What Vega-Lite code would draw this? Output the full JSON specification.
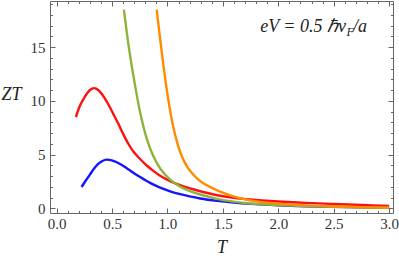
{
  "$schema": "https://vega.github.io/schema/vega-lite/v6.json",
  "width": 343,
  "height": 212,
  "autosize": "none",
  "padding": {"left": 50, "top": 1, "right": 6, "bottom": 48},
  "background": "white",
  "config": {
    "view": {"stroke": "#666", "strokeWidth": 1},
    "axis": {
      "domain": false,
      "grid": false,
      "tickColor": "#666",
      "tickWidth": 1,
      "labelFont": "Liberation Serif",
      "labelFontSize": 15,
      "labelColor": "#333",
      "titleFont": "Liberation Serif",
      "titleFontStyle": "italic",
      "titleFontWeight": "normal",
      "titleFontSize": 18,
      "titleColor": "#222"
    }
  },
  "datasets": {
    "curves": [
      {"s": "a", "T": 0.225, "ZT": 2.0},
      {"s": "a", "T": 0.263, "ZT": 2.6},
      {"s": "a", "T": 0.3, "ZT": 3.15},
      {"s": "a", "T": 0.338, "ZT": 3.72},
      {"s": "a", "T": 0.375, "ZT": 4.15},
      {"s": "a", "T": 0.413, "ZT": 4.42},
      {"s": "a", "T": 0.451, "ZT": 4.54},
      {"s": "a", "T": 0.498, "ZT": 4.47},
      {"s": "a", "T": 0.542, "ZT": 4.3},
      {"s": "a", "T": 0.588, "ZT": 4.05},
      {"s": "a", "T": 0.632, "ZT": 3.75},
      {"s": "a", "T": 0.688, "ZT": 3.35},
      {"s": "a", "T": 0.753, "ZT": 2.92},
      {"s": "a", "T": 0.843, "ZT": 2.38},
      {"s": "a", "T": 0.934, "ZT": 1.94},
      {"s": "a", "T": 1.024, "ZT": 1.6},
      {"s": "a", "T": 1.115, "ZT": 1.33},
      {"s": "a", "T": 1.208, "ZT": 1.11},
      {"s": "a", "T": 1.296, "ZT": 0.93},
      {"s": "a", "T": 1.448, "ZT": 0.71},
      {"s": "a", "T": 1.597, "ZT": 0.55},
      {"s": "a", "T": 1.748, "ZT": 0.43},
      {"s": "a", "T": 2.0, "ZT": 0.3},
      {"s": "a", "T": 2.25, "ZT": 0.21},
      {"s": "a", "T": 2.5, "ZT": 0.15},
      {"s": "a", "T": 2.75, "ZT": 0.11},
      {"s": "a", "T": 3.0, "ZT": 0.08},

      {"s": "b", "T": 0.174, "ZT": 8.5},
      {"s": "b", "T": 0.208, "ZT": 9.5},
      {"s": "b", "T": 0.255, "ZT": 10.4},
      {"s": "b", "T": 0.298, "ZT": 11.0},
      {"s": "b", "T": 0.339, "ZT": 11.2},
      {"s": "b", "T": 0.378, "ZT": 11.0},
      {"s": "b", "T": 0.421, "ZT": 10.45},
      {"s": "b", "T": 0.468, "ZT": 9.65},
      {"s": "b", "T": 0.511, "ZT": 8.8},
      {"s": "b", "T": 0.558, "ZT": 7.85},
      {"s": "b", "T": 0.602, "ZT": 6.9},
      {"s": "b", "T": 0.648, "ZT": 6.0},
      {"s": "b", "T": 0.692, "ZT": 5.3},
      {"s": "b", "T": 0.753, "ZT": 4.6},
      {"s": "b", "T": 0.813, "ZT": 4.0},
      {"s": "b", "T": 0.873, "ZT": 3.5},
      {"s": "b", "T": 0.934, "ZT": 3.05},
      {"s": "b", "T": 1.024, "ZT": 2.55},
      {"s": "b", "T": 1.115, "ZT": 2.17},
      {"s": "b", "T": 1.208, "ZT": 1.86},
      {"s": "b", "T": 1.296, "ZT": 1.6},
      {"s": "b", "T": 1.448, "ZT": 1.23},
      {"s": "b", "T": 1.597, "ZT": 0.99},
      {"s": "b", "T": 1.748, "ZT": 0.83},
      {"s": "b", "T": 2.0, "ZT": 0.65},
      {"s": "b", "T": 2.25, "ZT": 0.52},
      {"s": "b", "T": 2.5, "ZT": 0.42},
      {"s": "b", "T": 2.75, "ZT": 0.32},
      {"s": "b", "T": 3.0, "ZT": 0.24},

      {"s": "c", "T": 0.607, "ZT": 18.5},
      {"s": "c", "T": 0.65, "ZT": 15.1},
      {"s": "c", "T": 0.7, "ZT": 11.9},
      {"s": "c", "T": 0.752, "ZT": 9.0},
      {"s": "c", "T": 0.813, "ZT": 6.5},
      {"s": "c", "T": 0.873, "ZT": 4.85},
      {"s": "c", "T": 0.934, "ZT": 3.72},
      {"s": "c", "T": 1.024, "ZT": 2.68},
      {"s": "c", "T": 1.115, "ZT": 2.03},
      {"s": "c", "T": 1.208, "ZT": 1.6},
      {"s": "c", "T": 1.296, "ZT": 1.3},
      {"s": "c", "T": 1.448, "ZT": 0.9},
      {"s": "c", "T": 1.597, "ZT": 0.64},
      {"s": "c", "T": 1.748, "ZT": 0.47},
      {"s": "c", "T": 2.0, "ZT": 0.32},
      {"s": "c", "T": 2.25, "ZT": 0.22},
      {"s": "c", "T": 2.5, "ZT": 0.16},
      {"s": "c", "T": 2.75, "ZT": 0.11},
      {"s": "c", "T": 3.0, "ZT": 0.08},

      {"s": "d", "T": 0.903, "ZT": 18.5},
      {"s": "d", "T": 0.95, "ZT": 14.4},
      {"s": "d", "T": 1.0, "ZT": 10.6},
      {"s": "d", "T": 1.052, "ZT": 7.6},
      {"s": "d", "T": 1.113, "ZT": 5.3},
      {"s": "d", "T": 1.16, "ZT": 4.2},
      {"s": "d", "T": 1.203, "ZT": 3.5},
      {"s": "d", "T": 1.293, "ZT": 2.55},
      {"s": "d", "T": 1.444, "ZT": 1.7},
      {"s": "d", "T": 1.594, "ZT": 1.12},
      {"s": "d", "T": 1.745, "ZT": 0.76},
      {"s": "d", "T": 2.0, "ZT": 0.45},
      {"s": "d", "T": 2.25, "ZT": 0.29},
      {"s": "d", "T": 2.5, "ZT": 0.19},
      {"s": "d", "T": 2.75, "ZT": 0.12},
      {"s": "d", "T": 3.0, "ZT": 0.07}
    ],
    "notes": [
      {"seg": "main", "text": "eV = 0.5 ℏv", "T": 2.611, "ZT": 16.43},
      {"seg": "sub", "text": "F", "T": 2.616, "ZT": 16.06},
      {"seg": "tail", "text": "/a", "T": 2.675, "ZT": 16.43}
    ]
  },
  "layer": [
    {
      "data": {"name": "curves"},
      "mark": {"type": "line", "strokeWidth": 2.4, "interpolate": "catmull-rom", "clip": true},
      "encoding": {
        "x": {
          "field": "T", "type": "quantitative",
          "scale": {"domain": [-0.06, 3.035], "nice": false, "zero": false},
          "axis": {
            "orient": "bottom", "title": "T",
            "values": [0, 0.5, 1, 1.5, 2, 2.5, 3], "format": ".1f",
            "tickSize": -5, "labelPadding": 8,
            "titleY": 39, "titleBaseline": "alphabetic"
          }
        },
        "y": {
          "field": "ZT", "type": "quantitative",
          "scale": {"domain": [-0.42, 19.3], "nice": false, "zero": false},
          "axis": {
            "orient": "left", "title": "ZT",
            "values": [0, 5, 10, 15], "format": "d",
            "tickSize": -5, "labelPadding": 10,
            "titleAngle": 0, "titleX": -49, "titleY": 98,
            "titleAlign": "left", "titleBaseline": "alphabetic"
          }
        },
        "color": {
          "field": "s", "type": "nominal",
          "scale": {"domain": ["a", "b", "c", "d"], "range": ["#1414ff", "#ff1010", "#8db43a", "#ff8c00"]},
          "legend": null
        },
        "order": {"field": "T", "type": "quantitative"}
      }
    },
    {
      "data": {"name": "notes"},
      "transform": [{"filter": "datum.seg === 'main'"}],
      "mark": {"type": "text", "align": "right", "baseline": "alphabetic", "font": "Liberation Serif", "fontStyle": "italic", "fontSize": 18, "color": "#222"},
      "encoding": {
        "x": {
          "field": "T", "type": "quantitative",
          "scale": {"domain": [-0.06, 3.035], "nice": false, "zero": false},
          "axis": {
            "orient": "bottom", "title": null, "labels": false,
            "values": [0,0.1,0.2,0.3,0.4,0.5,0.6,0.7,0.8,0.9,1,1.1,1.2,1.3,1.4,1.5,1.6,1.7,1.8,1.9,2,2.1,2.2,2.3,2.4,2.5,2.6,2.7,2.8,2.9,3],
            "tickSize": -2.5
          }
        },
        "y": {
          "field": "ZT", "type": "quantitative",
          "scale": {"domain": [-0.42, 19.3], "nice": false, "zero": false},
          "axis": {
            "orient": "left", "title": null, "labels": false,
            "values": [0,1,2,3,4,5,6,7,8,9,10,11,12,13,14,15,16,17,18,19],
            "tickSize": -2.5
          }
        },
        "text": {"field": "text"}
      }
    },
    {
      "data": {"name": "notes"},
      "transform": [{"filter": "datum.seg === 'sub'"}],
      "mark": {"type": "text", "align": "left", "baseline": "alphabetic", "font": "Liberation Serif", "fontStyle": "italic", "fontSize": 12, "color": "#222"},
      "encoding": {
        "x": {
          "field": "T", "type": "quantitative",
          "scale": {"domain": [-0.06, 3.035], "nice": false, "zero": false},
          "axis": {
            "orient": "top", "title": null, "labels": false,
            "values": [0, 0.5, 1, 1.5, 2, 2.5, 3],
            "tickSize": -5
          }
        },
        "y": {
          "field": "ZT", "type": "quantitative",
          "scale": {"domain": [-0.42, 19.3], "nice": false, "zero": false},
          "axis": {
            "orient": "right", "title": null, "labels": false,
            "values": [0, 5, 10, 15],
            "tickSize": -5
          }
        },
        "text": {"field": "text"}
      }
    },
    {
      "data": {"name": "notes"},
      "transform": [{"filter": "datum.seg === 'tail'"}],
      "mark": {"type": "text", "align": "left", "baseline": "alphabetic", "font": "Liberation Serif", "fontStyle": "italic", "fontSize": 18, "color": "#222"},
      "encoding": {
        "x": {
          "field": "T", "type": "quantitative",
          "scale": {"domain": [-0.06, 3.035], "nice": false, "zero": false},
          "axis": {
            "orient": "top", "title": null, "labels": false,
            "values": [0,0.1,0.2,0.3,0.4,0.5,0.6,0.7,0.8,0.9,1,1.1,1.2,1.3,1.4,1.5,1.6,1.7,1.8,1.9,2,2.1,2.2,2.3,2.4,2.5,2.6,2.7,2.8,2.9,3],
            "tickSize": -2.5
          }
        },
        "y": {
          "field": "ZT", "type": "quantitative",
          "scale": {"domain": [-0.42, 19.3], "nice": false, "zero": false},
          "axis": {
            "orient": "right", "title": null, "labels": false,
            "values": [0,1,2,3,4,5,6,7,8,9,10,11,12,13,14,15,16,17,18,19],
            "tickSize": -2.5
          }
        },
        "text": {"field": "text"}
      }
    }
  ],
  "resolve": {"axis": {"x": "independent", "y": "independent"}}
}
